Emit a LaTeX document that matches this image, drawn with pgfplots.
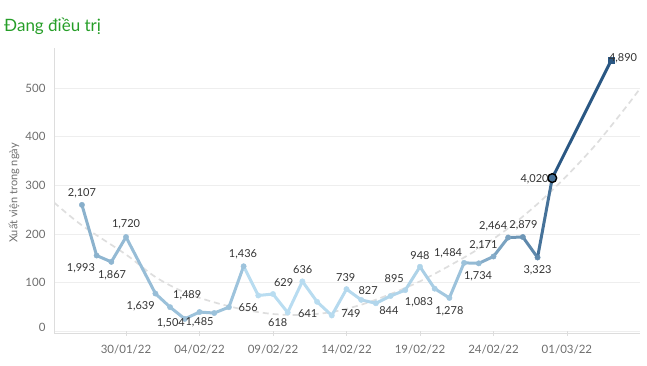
\documentclass[border=0pt]{standalone}
\usepackage{pgfplots}
\pgfplotsset{compat=1.18}
\usepackage{pgfplotstable}
\usepackage{fontspec}
\setmainfont{Lato}
\definecolor{gridc}{HTML}{EEEEEE}
\definecolor{axisc}{HTML}{DDDDDD}
\definecolor{tickc}{HTML}{6E6E6E}
\definecolor{labc}{HTML}{333333}
\definecolor{titlec}{RGB}{38,158,40}
\definecolor{trendc}{HTML}{DEDEDE}
\definecolor{hilite}{RGB}{71,114,153}
\definecolor{lastc}{RGB}{42,87,131}

\pgfplotstableread{
d v c n lab dx dy
-3 260 2107 1993 {2,107} 0 12
-2 156 1993 1867 {1,993} -15.7 -13
-1 143 1867 1720 {1,867} 0.7 -13.7
0 194 1720 1639 {1,720} 0 12.7
2 78 1639 1504 {1,639} -14.7 -12.7
3 50 1504 1489 {1,504} 0.7 -16
4 26 1489 1485 {1,489} 2.4 23.3
5 40 1485 1470 {1,485} 0 -10.7
6 38 1470 1450 {} 0 0
7 50 1450 1436 {} 0 0
8 134 1436 656 {1,436} -0.6 11.7
9 74 656 629 {656} -10 -12.6
10 77 629 618 {629} 10.6 11
11 39 618 636 {618} -10 -9.6
12 103 636 641 {636} 0.4 11.7
13 61 641 690 {641} -9.4 -12
14 33 690 739 {} 0 0
15 87 739 749 {739} -0.7 11.7
16 65 749 827 {749} -10.3 -13.3
17 58 827 844 {827} -7.7 12.6
18 73 844 895 {844} -1.7 -15
19 85 895 948 {895} -11 11.7
20 133 948 1083 {948} 0 11
21 88 1083 1278 {1,083} -15.7 -13.4
22 69 1278 1484 {1,278} 0 -13.4
23 141 1484 1734 {1,484} -16 10
24 140 1734 2171 {1,734} -0.7 -13.3
25 154 2171 2464 {2,171} -10 11.7
26 193 2464 2879 {2,464} -15 11.7
27 194 2879 3323 {2,879} 0.6 11.3
28 152 3323 4020 {3,323} 0 -13
29 315 4020 4890 {4,020} -17.7 -1
33 556 4890 4890 {4,890} 12 2.7
}\data

\begin{document}
\begin{tikzpicture}
\useasboundingbox (-54bp,-33bp) rectangle (593bp,333bp);
\begin{axis}[
  at={(0,0)}, anchor=south west,
  scale only axis, width=586bp, height=285bp,
  xmin=-4.9, xmax=34.97, ymin=-3, ymax=582,
  axis x line*=bottom, axis y line*=left,
  axis line style={draw=axisc, line width=0.8bp, -},
  ymajorgrids, grid style={draw=gridc, line width=0.8bp},
  ytick={0,100,...,500},
  xtick={0,5,...,30},
  xticklabels={30/01/22,04/02/22,09/02/22,14/02/22,19/02/22,24/02/22,01/03/22},
  tick align=center,
  major tick length=5bp,
  x tick style={draw=axisc, line width=0.8bp},
  y tick style={draw=none},
  /pgf/number format/assume math mode=true,
  yticklabel={\ifnum\ticknum=0 \raisebox{8.5bp}{0}\else\pgfmathprintnumber{\tick}\fi},
  yticklabel style={font=\fontsize{11.5bp}{13bp}\selectfont, text=tickc, xshift=-2.5bp},
  xticklabel style={font=\fontsize{11.5bp}{13bp}\selectfont, text=tickc, yshift=-6bp},
  colormap={tabblue}{rgb255(0cm)=(185,221,241); rgb255(1cm)=(42,87,131)},
  point meta min=618, point meta max=4890,
]
\addplot[smooth, color=trendc, line width=1.7bp, dash pattern=on 6bp off 4bp] coordinates {
(-4.9,265) (-3,218) (0,158) (2,112) (4,80) (6,60) (8,45) (10,36) (12,34) (14,40) (16,55) (18,77) (20,103) (22,135) (24,170) (26,212) (28,262) (30,320) (32,385) (34,460) (35,500)};

\addplot[mesh, shader=flat corner, line width=3bp, line cap=round, line join=round, point meta=explicit, mark=none]
  table[x=d, y=v, meta=n] {\data};

\addplot[scatter, only marks, mark=*, mark size=2.7bp, scatter src=explicit,
  scatter/use mapped color={draw=mapped color, fill=mapped color}]
  table[x=d, y=v, meta=c] {\data};

\addplot[only marks, mark=*, mark size=4.4bp, mark options={draw=black, line width=1.4bp, fill=hilite}]
  coordinates {(29,315)};
\addplot[only marks, mark=square*, mark size=3bp, mark options={draw=lastc, fill=lastc}]
  coordinates {(33,556)};

\addplot[draw=none, mark=none,
  point meta=explicit symbolic,
  visualization depends on={\thisrow{dx}\as\dx},
  visualization depends on={\thisrow{dy}\as\dy},
  nodes near coords,
  every node near coord/.append style={anchor=center, inner sep=0pt, xshift=\dx*1bp, yshift=\dy*1bp,
    font=\fontsize{11bp}{13bp}\selectfont, text=labc}]
  table[x=d, y=v, meta=lab] {\data};
\end{axis}
\node[anchor=west, inner sep=0pt, text=titlec, font=\fontsize{17bp}{20bp}\selectfont] at (-50bp,307bp) {Đang điều trị};
\node[rotate=90, inner sep=0pt, text=tickc, font=\fontsize{11bp}{13bp}\selectfont] at (-40bp,140bp) {Xuất viện trong ngày};
\end{tikzpicture}
\end{document}
